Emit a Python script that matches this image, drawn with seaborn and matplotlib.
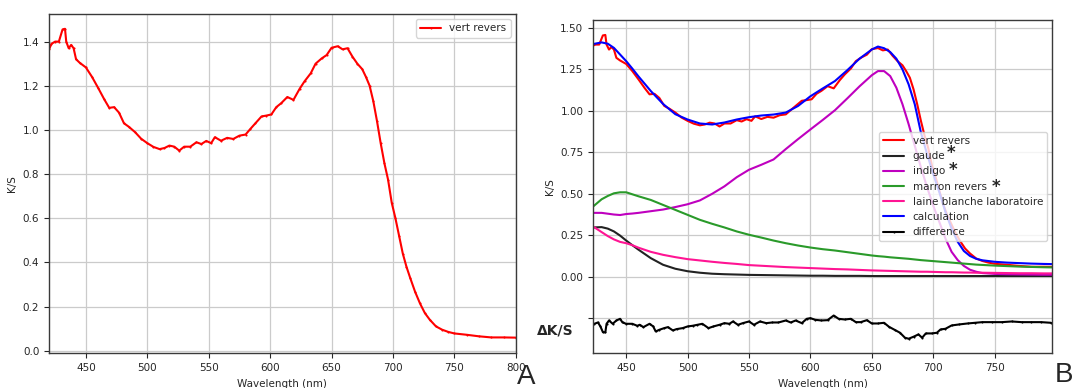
import numpy as np
import pandas as pd
import seaborn as sns
import matplotlib
matplotlib.use('Agg')
import matplotlib.pyplot as plt

# --- vert revers (measured spectrum) ---
wl_vert = [420, 422, 425, 428, 431, 433, 434, 436, 438, 440, 442, 445, 450, 455, 460, 465,
           469, 473, 477, 481, 485, 490, 495, 500, 505, 510, 514, 518, 522, 526, 530, 535,
           540, 544, 548, 552, 555, 560, 565, 570, 575, 580, 584, 588, 593, 597, 601, 605,
           609, 614, 619, 624, 628, 633, 637, 642, 646, 650, 655, 659, 663, 667, 671, 675,
           678, 681, 684, 687, 690, 693, 696, 699, 702, 705, 708, 711, 714, 718, 722, 726,
           730, 735, 740, 745, 750, 760, 770, 780, 790, 800]
vert_revers = [1.365, 1.39, 1.40, 1.40, 1.455, 1.458, 1.40, 1.37, 1.385, 1.37, 1.32, 1.304,
               1.283, 1.24, 1.19, 1.138, 1.10, 1.103, 1.078, 1.03, 1.014, 0.99, 0.96, 0.94,
               0.923, 0.913, 0.918, 0.929, 0.924, 0.906, 0.924, 0.924, 0.944, 0.936, 0.95,
               0.94, 0.967, 0.951, 0.964, 0.959, 0.974, 0.979, 1.005, 1.03, 1.061, 1.065,
               1.07, 1.103, 1.121, 1.149, 1.136, 1.186, 1.22, 1.256, 1.30, 1.324, 1.339,
               1.372, 1.379, 1.365, 1.37, 1.332, 1.30, 1.275, 1.24, 1.20, 1.13, 1.04, 0.94,
               0.85, 0.775, 0.67, 0.60, 0.52, 0.44, 0.38, 0.33, 0.267, 0.214, 0.17, 0.14,
               0.11, 0.095, 0.085, 0.078, 0.072, 0.065, 0.06, 0.06, 0.059]

# --- components and fit (panel B) ---
wl_b = [423, 430, 435, 440, 445, 450, 455, 460, 470, 480, 490, 500, 510, 520, 530, 540,
        550, 560, 570, 580, 590, 600, 610, 620, 630, 640, 650, 655, 660, 665, 670, 675,
        680, 685, 690, 695, 700, 705, 710, 715, 720, 725, 730, 735, 740, 750, 760, 770,
        780, 790, 797]
gaude = [0.297, 0.299, 0.29, 0.273, 0.248, 0.218, 0.19, 0.163, 0.112, 0.072, 0.048, 0.033,
         0.024, 0.018, 0.015, 0.013, 0.011, 0.01, 0.009, 0.008, 0.007, 0.006, 0.006, 0.005,
         0.005, 0.005, 0.004, 0.004, 0.004, 0.004, 0.004, 0.004, 0.004, 0.004, 0.004, 0.004,
         0.004, 0.004, 0.004, 0.004, 0.004, 0.004, 0.004, 0.004, 0.004, 0.004, 0.004, 0.004,
         0.004, 0.004, 0.004]
indigo = [0.385, 0.385, 0.38, 0.375, 0.372, 0.378, 0.381, 0.385, 0.395, 0.405, 0.42, 0.437,
          0.46, 0.50, 0.545, 0.60, 0.645, 0.675, 0.707, 0.77, 0.83, 0.888, 0.945, 1.004,
          1.075, 1.148, 1.215, 1.24, 1.24, 1.21, 1.14, 1.04, 0.92, 0.79, 0.66, 0.54, 0.43,
          0.33, 0.23, 0.15, 0.10, 0.065, 0.042, 0.03, 0.022, 0.017, 0.015, 0.014, 0.013,
          0.012, 0.012]
marron_revers = [0.423, 0.467, 0.487, 0.503, 0.509, 0.509, 0.497, 0.485, 0.463, 0.433, 0.403,
                 0.373, 0.343, 0.319, 0.297, 0.273, 0.253, 0.236, 0.218, 0.202, 0.188, 0.176,
                 0.166, 0.158, 0.148, 0.138, 0.128, 0.124, 0.121, 0.117, 0.114, 0.111, 0.108,
                 0.104, 0.10, 0.097, 0.094, 0.091, 0.088, 0.085, 0.082, 0.079, 0.076, 0.073,
                 0.071, 0.067, 0.064, 0.061, 0.059, 0.057, 0.056]
laine_blanche = [0.303, 0.269, 0.245, 0.225, 0.21, 0.202, 0.19, 0.175, 0.15, 0.132, 0.118,
                 0.106, 0.098, 0.09, 0.083, 0.077, 0.07, 0.066, 0.062, 0.058, 0.055, 0.052,
                 0.049, 0.046, 0.044, 0.041, 0.038, 0.037, 0.036, 0.035, 0.034, 0.033, 0.032,
                 0.031, 0.03, 0.03, 0.029, 0.028, 0.027, 0.027, 0.026, 0.025, 0.025, 0.024,
                 0.024, 0.023, 0.022, 0.021, 0.021, 0.02, 0.02]
calculation = [1.403, 1.413, 1.405, 1.38, 1.34, 1.30, 1.255, 1.208, 1.12, 1.042, 0.98, 0.948,
               0.924, 0.918, 0.93, 0.948, 0.962, 0.972, 0.978, 0.99, 1.03, 1.088, 1.135, 1.18,
               1.245, 1.315, 1.37, 1.388, 1.378, 1.355, 1.315, 1.25, 1.16, 1.04, 0.87, 0.74,
               0.62, 0.51, 0.39, 0.29, 0.21, 0.155, 0.125, 0.108, 0.099, 0.09, 0.085, 0.082,
               0.079, 0.077, 0.076]

# --- difference (shifted down by 0.25) ---
wl_diff = [424, 427, 429, 431, 433, 434, 436, 439, 442, 445, 447, 450, 455, 459, 461, 464,
           469, 472, 474, 477, 481, 484, 488, 491, 496, 500, 504, 508, 512, 517, 521, 526,
           530, 534, 537, 541, 545, 550, 554, 559, 564, 569, 574, 580, 584, 588, 593, 597,
           600, 604, 609, 614, 619, 623, 628, 633, 637, 641, 646, 650, 655, 660, 664, 669,
           673, 677, 680, 684, 688, 691, 694, 699, 703, 706, 710, 715, 721, 728, 734, 740,
           748, 756, 764, 772, 780, 788, 796]
difference = [-0.284, -0.276, -0.30, -0.334, -0.336, -0.284, -0.264, -0.284, -0.264, -0.254,
              -0.276, -0.284, -0.284, -0.296, -0.29, -0.304, -0.284, -0.30, -0.33, -0.32,
              -0.31, -0.304, -0.324, -0.316, -0.31, -0.30, -0.296, -0.29, -0.284, -0.31,
              -0.30, -0.29, -0.28, -0.284, -0.27, -0.29, -0.28, -0.27, -0.29, -0.27, -0.28,
              -0.276, -0.276, -0.264, -0.276, -0.264, -0.28, -0.254, -0.25, -0.26, -0.264,
              -0.262, -0.234, -0.254, -0.258, -0.254, -0.274, -0.274, -0.262, -0.282,
              -0.282, -0.278, -0.302, -0.322, -0.338, -0.368, -0.374, -0.362, -0.348,
              -0.368, -0.342, -0.342, -0.338, -0.318, -0.314, -0.294, -0.288, -0.282,
              -0.278, -0.274, -0.274, -0.274, -0.27, -0.274, -0.274, -0.274, -0.278]

sns.set_style('ticks')
plt.rcParams['font.family'] = ['DejaVu Sans']
plt.rcParams['font.size'] = 7.5
plt.rcParams['axes.grid'] = True
plt.rcParams['grid.color'] = '#cbcbcb'
plt.rcParams['grid.linewidth'] = 0.9
plt.rcParams['axes.edgecolor'] = '#3a3a3a'
plt.rcParams['axes.linewidth'] = 1.0

fig = plt.figure(figsize=(10.73, 3.88), dpi=100)
ax1 = fig.add_axes([0.0457, 0.0894, 0.435, 0.8745])
ax2 = fig.add_axes([0.5527, 0.0894, 0.428, 0.859])

# panel A
sns.lineplot(x=wl_vert, y=vert_revers, ax=ax1, color='red', lw=1.5, marker='.',
             markersize=3, markeredgewidth=0, label='vert revers', estimator=None)
ax1.set_xlim(420, 800)
ax1.set_ylim(-0.012, 1.525)
ax1.set_xlabel('Wavelength (nm)')
ax1.set_ylabel('K/S')
ax1.legend(loc='upper right', fontsize=7.5)

# panel B
b = pd.DataFrame({'wl': wl_b, 'gaude': gaude, 'indigo': indigo, 'marron': marron_revers,
                  'laine': laine_blanche, 'calc': calculation})
sns.lineplot(x=wl_vert, y=vert_revers, ax=ax2, color='red', lw=1.5, label='vert revers', estimator=None)
sns.lineplot(data=b, x='wl', y='gaude', ax=ax2, color='#222222', lw=1.5, label='gaude', estimator=None)
sns.lineplot(data=b, x='wl', y='indigo', ax=ax2, color='#bf00bf', lw=1.5, label='indigo', estimator=None)
sns.lineplot(data=b, x='wl', y='marron', ax=ax2, color='#2a9a2a', lw=1.5, label='marron revers', estimator=None)
sns.lineplot(data=b, x='wl', y='laine', ax=ax2, color='#ff1493', lw=1.5, label='laine blanche laboratoire', estimator=None)
sns.lineplot(data=b, x='wl', y='calc', ax=ax2, color='blue', lw=1.5, label='calculation', estimator=None)
sns.lineplot(x=wl_diff, y=difference, ax=ax2, color='black', lw=1.5, marker='.',
             markersize=3, markeredgewidth=0, label='difference', estimator=None)
ax2.set_xlim(423, 797)
ax2.set_ylim(-0.462, 1.548)
ax2.set_yticks([-0.25, 0, 0.25, 0.5, 0.75, 1.0, 1.25, 1.5])
ax2.set_yticklabels(['', '0.00', '0.25', '0.50', '0.75', '1.00', '1.25', '1.50'])
ax2.set_xlabel('Wavelength (nm)')
ax2.set_ylabel('K/S')
ax2.legend(loc='center right', bbox_to_anchor=(1.0, 0.5), fontsize=7.5)

W, H = 1073, 388
# asterisks next to legend labels
for x, y in [(951, 149), (953, 166), (996, 183)]:
    fig.text(x / W, 1 - (y + 9) / H, '*', ha='center', va='baseline',
             fontsize=12, fontweight='bold')
fig.text(537 / W, 1 - 330 / H, 'ΔK/S', ha='left', va='center', fontsize=10, fontweight='bold')
fig.text(517 / W, 1 - 384 / H, 'A', ha='left', va='baseline', fontsize=20, family='Liberation Sans')
fig.text(1055 / W, 1 - 382 / H, 'B', ha='left', va='baseline', fontsize=20, family='Liberation Sans')

fig.savefig('out.png', dpi=100)
